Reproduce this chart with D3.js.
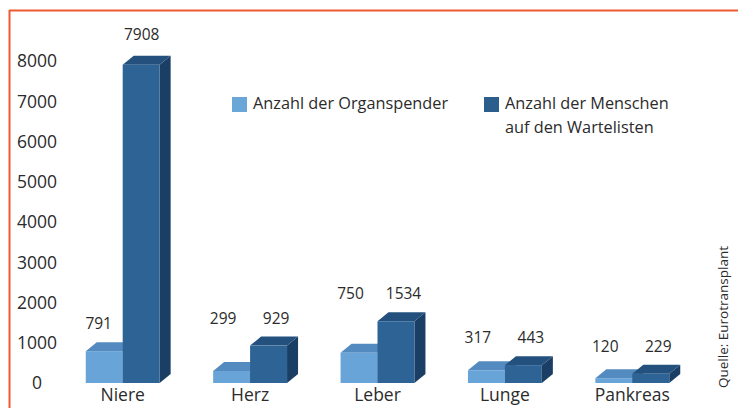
<!DOCTYPE html>
<html><head><meta charset="utf-8">
<script src="https://cdn.jsdelivr.net/npm/d3@7"></script>
<style>
html,body{margin:0;padding:0;background:#fff;}
svg{display:block;}
text{font-family:"Open Sans","Noto Sans",sans-serif;fill:#2b2b2b;}
</style></head>
<body>
<svg id="c" width="738" height="408"></svg>
<script>
const categories = ["Niere", "Herz", "Leber", "Lunge", "Pankreas"];
const organspender = [791, 299, 750, 317, 120];
const warteliste = [7908, 929, 1534, 443, 229];
const seriesNames = [["Anzahl der Organspender"], ["Anzahl der Menschen", "auf den Wartelisten"]];
const yTicks = [0, 1000, 2000, 3000, 4000, 5000, 6000, 7000, 8000];
const source = "Quelle: Eurotransplant";

const svg = d3.select("#c");
const W = 738, H = 408;
svg.append("rect").attr("width", W).attr("height", H).attr("fill", "#fff");

// frame (orange top and left lines)
svg.append("line").attr("x1", 9).attr("x2", W).attr("y1", 10.5).attr("y2", 10.5)
  .attr("stroke", "#ee5a2f").attr("stroke-width", 2);
svg.append("line").attr("x1", 9.5).attr("x2", 9.5).attr("y1", 10).attr("y2", H)
  .attr("stroke", "#ee5a2f").attr("stroke-width", 2);

const y = d3.scaleLinear().domain([0, 8000]).range([383, 61]);
const x0 = d3.scaleBand().domain(categories).range([59, 696]).paddingInner(0.42).paddingOuter(0.21);
const x1 = d3.scaleBand().domain([0, 1]).range([0, x0.bandwidth()]);

// y tick labels
svg.append("g").selectAll("text").data(yTicks).join("text")
  .attr("x", 37).attr("y", d => y(d)).attr("dy", "0.36em")
  .attr("text-anchor", "middle").attr("font-size", 17.5).text(d => d);

const dx = 11, dy = 9;
const colors = [
  {front: "#68a4d7", top: "#538bc1", side: "#3f74a8"},
  {front: "#2d6395", top: "#23507d", side: "#1a3e64"}
];
const seriesVals = [organspender, warteliste];

const bars = svg.append("g");
categories.forEach((cat, i) => {
  [0, 1].forEach(s => {
    const v = seriesVals[s][i];
    const xl = x0(cat) + x1(s), xr = xl + x1.bandwidth();
    const yt = y(v), yb = y(0);
    const c = colors[s];
    const g = bars.append("g");
    g.append("path").attr("d", `M${xr},${yt}L${xr+dx},${yt-dy}L${xr+dx},${yb-dy}L${xr},${yb}Z`).attr("fill", c.side);
    g.append("path").attr("d", `M${xl},${yt}L${xl+dx},${yt-dy}L${xr+dx},${yt-dy}L${xr},${yt}Z`).attr("fill", c.top);
    g.append("rect").attr("x", xl).attr("y", yt).attr("width", xr - xl).attr("height", yb - yt).attr("fill", c.front);
  });
});

// value labels
const labels = svg.append("g");
categories.forEach((cat, i) => {
  const gc = x0(cat) + x0.bandwidth() / 2;
  const a = organspender[i], b = warteliste[i];
  const ya = y(a), yb2 = y(b);
  const common = Math.min(ya, yb2);
  const close = Math.abs(ya - yb2) < 60;
  const la = (close ? common : ya) - 22;
  const lb = (close ? common : yb2) - 25;
  const offA = close ? 27 : 24, offB = close ? 26 : 19;
  labels.append("text").attr("x", gc - offA).attr("y", la).attr("text-anchor", "middle")
    .attr("font-size", 15.5).text(a);
  labels.append("text").attr("x", gc + offB).attr("y", close ? la : lb).attr("text-anchor", "middle")
    .attr("font-size", 15.5).text(b);
});

// category labels
svg.append("g").selectAll("text").data(categories).join("text")
  .attr("x", d => x0(d) + x0.bandwidth() / 2).attr("y", 401)
  .attr("text-anchor", "middle").attr("font-size", 17.5).text(d => d);

// legend
const legend = svg.append("g");
const legPos = [[232, 97], [484, 97]];
seriesNames.forEach((lines, s) => {
  const [lx, ly] = legPos[s];
  legend.append("rect").attr("x", lx).attr("y", ly).attr("width", 15).attr("height", 15)
    .attr("fill", s === 0 ? "#6aa6d8" : "#2b5e8c");
  lines.forEach((t, k) => {
    legend.append("text").attr("x", lx + 21).attr("y", ly + 12 + k * 24)
      .attr("font-size", 16.3).text(t);
  });
});

// source
svg.append("text").attr("transform", "translate(728,388) rotate(-90)")
  .attr("font-size", 13.5).text(source);
</script>
</body></html>
